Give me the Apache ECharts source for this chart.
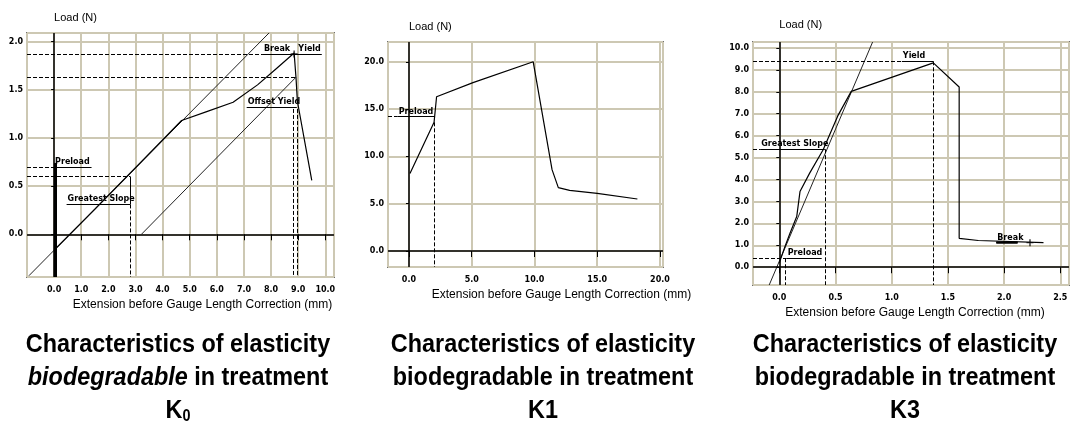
<!DOCTYPE html>
<html>
<head>
<meta charset="utf-8"/>
<style>
html, body { margin: 0; padding: 0; background: #fff; }
#main { width: 1075px; height: 429px; }
</style>
<script src="https://cdn.jsdelivr.net/npm/echarts@6/dist/echarts.min.js"></script>
</head>
<body>
<div id="main"></div>
<script type="text/javascript">
// ---------- K0 ----------
var k0X = [-1.0, 10.32];
var k0Y = [-0.443, 2.088];
var k0Curve = [[0.05, -0.15], [1.5, 0.26], [3.0, 0.69], [4.7, 1.18], [5.6, 1.27], [6.6, 1.37],
               [7.5, 1.55], [8.2, 1.72], [8.85, 1.88], [8.92, 1.62], [8.97, 1.38], [9.5, 0.56]];
var k0Slope = [[-0.93, -0.43], [7.93, 2.09]];
var k0Offset = [[3.22, 0], [8.92, 1.63]];
// [x1, y1, x2, y2]
var k0Dashed = [[-1.0, 1.87, 7.7, 1.87], [-1.0, 1.63, 8.92, 1.63], [-1.0, 0.70, 0, 0.70], [-1.0, 0.60, 2.8, 0.60],
                [8.82, 1.30, 8.82, -0.443], [8.98, 1.30, 8.98, -0.443], [2.8, 0.31, 2.8, -0.443]];
var k0Solid = [[2.8, 0.60, 2.8, 0.31], [0.06, 0.74, 0.06, -0.443, 3]];
// [text, x1, x2, y, position]
var k0Labels = [['Preload', 0, 1.38, 0.70, 'insideStartTop'], ['Greatest Slope', 0.46, 2.8, 0.31, 'insideStartTop'],
                ['Break', 7.7, 8.85, 1.87, 'insideStartTop'], ['Yield', 8.85, 9.87, 1.87, 'insideEndTop'],
                ['Offset Yield', 7.1, 8.95, 1.32, 'insideStartTop']];
var k0Marks = [[8.85, 1.87]];

// ---------- K1 ----------
var k1X = [-1.67, 20.24];
var k1Y = [-1.69, 22.09];
var k1Curve = [[0.08, 8.2], [2.0, 13.6], [2.2, 16.3], [5.1, 17.8], [9.9, 20.0], [11.4, 8.6],
               [11.9, 6.7], [12.8, 6.4], [15.0, 6.1], [18.2, 5.5]];
var k1Dashed = [[-1.67, 14.2, -0.9, 14.2], [2.0, 13.6, 2.0, -1.69]];
var k1Solid = [];
var k1Labels = [['Preload', -0.9, 2.0, 14.2, 'insideStartTop']];
var k1Marks = [];

// ---------- K3 ----------
var k3X = [-0.234, 2.577];
var k3Y = [-0.81, 10.27];
var k3Curve = [[0.0, 0.2], [0.05, 0.94], [0.095, 1.55], [0.155, 2.31], [0.184, 3.45], [0.27, 4.29],
               [0.39, 5.36], [0.52, 6.9], [0.64, 8.02], [1.37, 9.32], [1.6, 8.22], [1.6, 1.32],
               [1.77, 1.22], [2.35, 1.12]];
var k3Slope = [[-0.09, -0.81], [0.83, 10.27]];
var k3Dashed = [[-0.234, 9.39, 1.09, 9.39], [1.37, 9.39, 1.37, -0.81], [-0.234, 5.38, -0.17, 5.38],
                [0.405, 5.38, 0.405, -0.81], [-0.234, 0.41, 0.066, 0.41], [0.05, 0.41, 0.05, -0.81]];
var k3Solid = [[1.93, 1.12, 2.12, 1.12, 2.5]];
var k3Labels = [['Yield', 1.09, 1.37, 9.39, 'insideStartTop'], ['Greatest Slope', -0.17, 0.405, 5.38, 'insideStartTop'],
                ['Preload', 0.066, 0.377, 0.41, 'insideStartTop'], ['Break', 1.93, 2.12, 1.12, 'insideStartTop']];
var k3Marks = [[2.23, 1.12]];

var gridColor = '#cdc8b3';
var smallFont = 'DejaVu Sans';

function axisX(i, range, split, padLeft, gap) {
    return {
        type: 'value', gridIndex: i, min: range[0], max: range[1], splitNumber: split,
        name: 'Extension before Gauge Length Correction (mm)', nameLocation: 'middle', nameGap: gap,
        nameTextStyle: { fontSize: 12, color: '#000', fontFamily: 'Liberation Sans', padding: [0, 0, 0, padLeft] },
        axisLine: { show: false },
        axisTick: { show: true, length: 6, lineStyle: { color: '#000' } },
        axisLabel: { fontSize: 8, fontWeight: 'bold', color: '#000', fontFamily: smallFont, margin: 9,
                     showMinLabel: false, showMaxLabel: false,
                     formatter: function (v) { return v.toFixed(1); } },
        splitLine: { show: true, lineStyle: { color: gridColor, width: 2 } }
    };
}
function axisY(i, range, split, gap) {
    return {
        type: 'value', gridIndex: i, min: range[0], max: range[1], splitNumber: split,
        name: 'Load (N)', nameLocation: 'end', nameGap: gap,
        nameTextStyle: { fontSize: 11, color: '#000', fontFamily: 'Liberation Sans', align: 'left' },
        axisLine: { show: false },
        axisTick: { show: true, length: 3, lineStyle: { color: '#000' } },
        axisLabel: { fontSize: 8, fontWeight: 'bold', color: '#000', fontFamily: smallFont, margin: 4,
                     showMinLabel: false, showMaxLabel: false,
                     formatter: function (v) { return v.toFixed(1); } },
        splitLine: { show: true, lineStyle: { color: gridColor, width: 2 } }
    };
}

function seg(p, type, width) {
    return [{ coord: [p[0], p[1]], lineStyle: { type: type, width: width || p[4] || 1, color: '#000' } },
            { coord: [p[2], p[3]] }];
}
function labelSeg(l) {
    return [{ coord: [l[1], l[3]], lineStyle: { type: 'solid', width: 1, color: '#000' },
              label: { show: true, position: l[4], formatter: l[0], distance: 1, fontSize: 8,
                       fontWeight: 'bold', color: '#000', fontFamily: smallFont } },
            { coord: [l[2], l[3]] }];
}

function chartSeries(i, curve, slope, offset, dashed, solid, labels, marks) {
    var s = [];
    var ml = [{ xAxis: 0, lineStyle: { type: 'solid', width: 1.5, color: '#000' } },
              { yAxis: 0, lineStyle: { type: 'solid', width: 1.5, color: '#000' } }];
    dashed.forEach(function (d) { ml.push(seg(d, 'dashed', 1)); });
    solid.forEach(function (d) { ml.push(seg(d, 'solid')); });
    labels.forEach(function (l) { ml.push(labelSeg(l)); });
    s.push({
        type: 'line', xAxisIndex: i, yAxisIndex: i, data: curve, symbol: 'none', z: 5,
        lineStyle: { color: '#000', width: 1.2 },
        markLine: { silent: true, symbol: ['none', 'none'], label: { show: false }, data: ml }
    });
    if (slope) s.push({ type: 'line', xAxisIndex: i, yAxisIndex: i, data: slope, symbol: 'none', z: 4,
                        lineStyle: { color: '#222', width: 1 } });
    if (offset) s.push({ type: 'line', xAxisIndex: i, yAxisIndex: i, data: offset, symbol: 'none', z: 4,
                         lineStyle: { color: '#222', width: 1 } });
    if (marks.length) s.push({ type: 'scatter', xAxisIndex: i, yAxisIndex: i, data: marks, z: 6,
                               symbol: 'path://M4,0H6V4H10V6H6V10H4V6H0V4H4Z', symbolSize: 7,
                               itemStyle: { color: '#000' } });
    return s;
}

var titleFont = '"Liberation Sans", Arial, sans-serif';
function titleLines(cx, l2, l3) {
    var lines = ['Characteristics of elasticity', l2, l3];
    return lines.map(function (t, k) {
        return {
            type: 'text', x: cx, y: 345 + k * 33, scaleX: 0.9,
            style: {
                text: t, align: 'center', verticalAlign: 'middle', fill: '#000',
                fontSize: 26, fontWeight: 'bold', fontFamily: titleFont,
                rich: {
                    i: { fontStyle: 'italic', fontSize: 26, fontWeight: 'bold', fontFamily: titleFont },
                    k: { fontSize: 26, fontWeight: 'bold', fontFamily: titleFont, lineHeight: 28 },
                    s: { fontSize: 16, fontWeight: 'bold', fontFamily: titleFont, verticalAlign: 'bottom', lineHeight: 15 }
                }
            }
        };
    });
}

var myChart = echarts.init(document.getElementById('main'));
var options = {
    animation: false,
    backgroundColor: '#fff',
    grid: [
        { left: 27, top: 33, width: 307, height: 244, show: true, borderColor: '#000', borderWidth: 1.5 },
        { left: 388, top: 42, width: 275, height: 225, show: true, borderColor: '#000', borderWidth: 1.5 },
        { left: 753, top: 42, width: 316, height: 243, show: true, borderColor: '#000', borderWidth: 1.5 }
    ],
    xAxis: [axisX(0, k0X, 11, 44, 21), axisX(1, k1X, 4, 72, 20), axisX(2, k3X, 6, 8, 22)],
    yAxis: [axisY(0, k0Y, 5, 10), axisY(1, k1Y, 5, 10), axisY(2, k3Y, 11, 12)],
    series: [].concat(
        chartSeries(0, k0Curve, k0Slope, k0Offset, k0Dashed, k0Solid, k0Labels, k0Marks),
        chartSeries(1, k1Curve, null, null, k1Dashed, k1Solid, k1Labels, k1Marks),
        chartSeries(2, k3Curve, k3Slope, null, k3Dashed, k3Solid, k3Labels, k3Marks)
    ),
    graphic: [].concat(
        titleLines(178, '{i|biodegradable} in treatment', '{k|K}{s|0}'),
        titleLines(543, 'biodegradable in treatment', 'K1'),
        titleLines(905, 'biodegradable in treatment', 'K3')
    )
};
myChart.setOption(options);
</script>
</body>
</html>
